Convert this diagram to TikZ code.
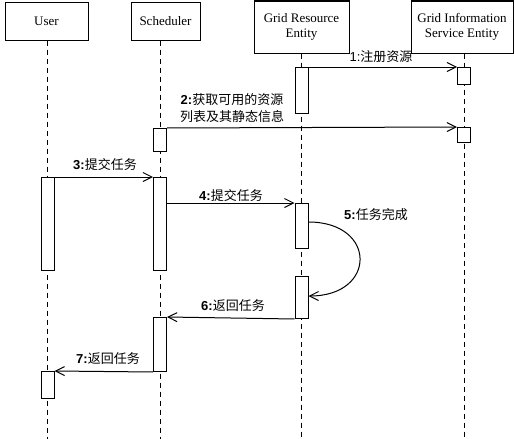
\documentclass[tikz,border=0pt]{standalone}
\usepackage{fontspec}
\setmainfont{Liberation Serif}
\newfontfamily\cjk{Noto Sans CJK SC}
\newfontfamily\labfont{Liberation Sans}
\usetikzlibrary{arrows.meta}
\newcommand{\msg}[2]{{\labfont\bfseries #1}{\cjk #2}}
\begin{document}
\begin{tikzpicture}[x=1pt,y={(0pt,-1pt)},
  header/.style={draw,line width=1pt,inner sep=0pt,align=center,font=\fontsize{13}{15}\selectfont},
  life/.style={line width=0.8pt,dash pattern=on 5pt off 4pt},
  act/.style={draw,fill=white,line width=1pt,minimum width=13pt,inner sep=0pt},
  call/.style={line width=1pt,-{Straight Barb[length=9pt,width=9pt,line width=1pt]}},
  lbl/.style={font=\fontsize{13}{17}\selectfont,align=center,inner sep=0pt}]
\useasboundingbox (0,0) rectangle (515,439);
% headers
\node[header,minimum width=83pt,minimum height=38pt] (user) at (46.5,21) {User};
\node[header,minimum width=69pt,minimum height=38pt] (sched) at (165.5,21) {Scheduler};
\node[header,minimum width=95pt,minimum height=52pt] (gre) at (301.5,27) {Grid Resource\\Entity};
\node[header,minimum width=102pt,minimum height=52pt] (gis) at (462,27) {Grid Information\\Service Entity};
% lifelines
\coordinate (userend) at (47.5,439);
\coordinate (schedend) at (160,439);
\coordinate (greend) at (301.5,439);
\coordinate (gisend) at (464,439);
\draw[life] (user.south -| userend) -- (userend);
\draw[life] (sched.south -| schedend) -- (schedend);
\draw[life] (gre.south -| greend) -- (greend);
\draw[life] (gis.south -| gisend) -- (gisend);
% activations
\node[act,minimum height=46pt,anchor=north] (g1) at (301.5,67) {};
\node[act,minimum height=17pt,anchor=north] (i1) at (464,67) {};
\node[act,minimum height=23pt,anchor=north] (s1) at (160,128) {};
\node[act,minimum height=15pt,anchor=north] (i2) at (464,127) {};
\node[act,minimum height=93pt,anchor=north] (u1) at (47.5,177) {};
\node[act,minimum height=93pt,anchor=north] (s2) at (160,177) {};
\node[act,minimum height=45pt,anchor=north] (g2) at (301.5,203) {};
\node[act,minimum height=42pt,anchor=north] (g3) at (301.5,276) {};
\node[act,minimum height=54pt,anchor=north] (s3) at (160,317) {};
\node[act,minimum height=27pt,anchor=north] (u2) at (47.5,371) {};
% messages
\draw[call] (g1.north east) -- (i1.north west);
\draw[call] (s1.north east) -- (i2.north west);
\draw[call] (u1.north east) -- (s2.north west);
\draw[call] (s2.east |- g2.north) -- (g2.north west);
\draw[call] (g2.east |- 0,222) .. controls (377,222) and (377,296) .. (g3.east |- 0,296);
\draw[call] (g3.south west) -- (s3.north east);
\draw[call] (s3.south west) -- (u2.north east);
% labels
\node[lbl] (l1) at (381,57) {{\labfont 1:}{\cjk 注册资源}};
\node[lbl] (l2) at (232,108) {\msg{2:}{获取可用的资源}\\{\cjk 列表及其静态信息}};
\node[lbl] (l3) at (105,165) {\msg{3:}{提交任务}};
\node[lbl] (l4) at (231,196) {\msg{4:}{提交任务}};
\node[lbl] (l5) at (376,215) {\msg{5:}{任务完成}};
\node[lbl] (l6) at (233,306) {\msg{6:}{返回任务}};
\node[lbl] (l7) at (108,359) {\msg{7:}{返回任务}};
\end{tikzpicture}
\end{document}
